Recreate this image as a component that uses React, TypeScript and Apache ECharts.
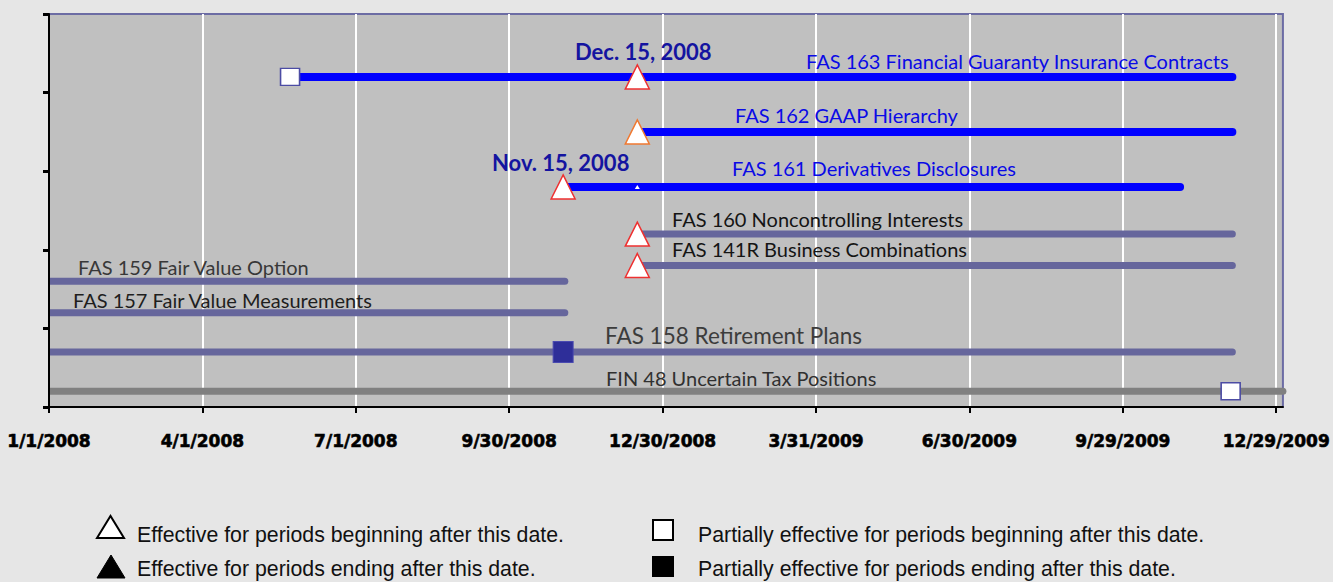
import React, { useEffect, useRef } from 'react';
import * as echarts from 'echarts';

// ---------- data ----------
const BASE = Date.UTC(2008, 0, 1);
const toDay = (s: string) => {
  const [y, m, d] = s.split('-').map(Number);
  return Math.round((Date.UTC(y, m - 1, d) - BASE) / 86400000);
};

const tickDates = ['2008-01-01', '2008-04-01', '2008-07-01', '2008-09-30', '2008-12-30', '2009-03-31', '2009-06-30', '2009-09-29', '2009-12-29'];
const tickLabels = ['1/1/2008', '4/1/2008', '7/1/2008', '9/30/2008', '12/30/2008', '3/31/2009', '6/30/2009', '9/29/2009', '12/29/2009'];
const axisStart = '2008-01-01';
const axisEnd = '2010-01-02';

const standards = [
  'FAS 163 Financial Guaranty Insurance Contracts',
  'FAS 162 GAAP Hierarchy',
  'FAS 161 Derivatives Disclosures',
  'FAS 160 Noncontrolling Interests',
  'FAS 141R Business Combinations',
  'FAS 159 Fair Value Option',
  'FAS 157 Fair Value Measurements',
  'FAS 158 Retirement Plans',
  'FIN 48 Uncertain Tax Positions',
];
const rowLevel = [4.2, 3.5, 2.8, 2.2, 1.8, 1.6, 1.2, 0.7, 0.2];
const startDates = ['2008-05-23', '2008-12-15', '2008-11-01', '2008-12-15', '2008-12-15', '2008-01-01', '2008-01-01', '2008-01-01', '2008-01-01'];
const endDates = ['2009-12-03', '2009-12-03', '2009-11-02', '2009-12-03', '2009-12-03', '2008-11-02', '2008-11-02', '2009-12-03', '2010-01-02'];
const rowGroup = ['new', 'new', 'new', 'adopted', 'adopted', 'adopted', 'adopted', 'adopted', 'fin'];

// markers: [row index, date]
const openTriangles: [number, string][] = [[0, '2008-12-15'], [1, '2008-12-15'], [2, '2008-11-01'], [3, '2008-12-15'], [4, '2008-12-15']];
const smallTriangles: [number, string][] = [[2, '2008-12-15']];
const openSquares: [number, string][] = [[0, '2008-05-23'], [8, '2009-12-02']];
const filledSquares: [number, string][] = [[7, '2008-11-01']];

const dateNotes = ['Dec. 15, 2008', 'Nov. 15, 2008'];

const legendItems = [
  'Effective for periods beginning after this date.',
  'Effective for periods ending after this date.',
  'Partially effective for periods beginning after this date.',
  'Partially effective for periods ending after this date.',
];

// ---------- styles ----------
const groupColor: Record<string, string> = { new: '#0000FF', adopted: '#66669C', fin: '#808080' };
const groupWidth: Record<string, number> = { new: 8, adopted: 7, fin: 7 };
const labelFont = 'Lato, "Open Sans", sans-serif';

// label layout: [x, y, fontSize, color]
const labelLayout: [number, number, number, string][] = [
  [806, 61, 20, '#0A0AE6'],
  [735, 115, 20, '#0A0AE6'],
  [732, 168, 20, '#0A0AE6'],
  [672, 219, 20, '#141414'],
  [672, 249, 20, '#141414'],
  [78, 267, 20, '#383838'],
  [73, 300, 20, '#1E1E1E'],
  [605, 335, 22.5, '#3C3C3C'],
  [606, 378, 20, '#303030'],
];
const noteLayout: [number, number][] = [[575, 51], [492, 162]];

export default function App() {
  const ref = useRef<HTMLDivElement>(null);
  useEffect(() => {
    if (!ref.current) return;
    const chart = echarts.init(ref.current, undefined, { renderer: 'svg' });
    const tickDays = tickDates.map(toDay);
    const lineSeries = standards.map((name, i) => ({
      type: 'line',
      name,
      data: [[toDay(startDates[i]), rowLevel[i]], [toDay(endDates[i]), rowLevel[i]]],
      symbol: 'none',
      silent: true,
      z: 2,
      lineStyle: { color: groupColor[rowGroup[i]], width: groupWidth[rowGroup[i]], cap: 'round', opacity: 1 },
    }));
    const mk = (arr: [number, string][]) => arr.map(([r, d]) => [toDay(d), rowLevel[r]]);

    const graphics: any[] = [];
    // mask left of plot area so line caps do not spill outside the axis
    graphics.push({ type: 'rect', z: 3, silent: true, shape: { x: 0, y: 0, width: 48, height: 420 }, style: { fill: '#E6E6E6' } });
    standards.forEach((name, i) => {
      const [x, y, fs, c] = labelLayout[i];
      graphics.push({ type: 'text', x, y, z: 10, style: { text: name, fill: c, font: `${fs}px ${labelFont}`, textVerticalAlign: 'middle' } });
    });
    dateNotes.forEach((t, i) => {
      const [x, y] = noteLayout[i];
      graphics.push({ type: 'text', x, y, z: 10, style: { text: t, fill: '#1414A0', font: `bold 22px ${labelFont}`, textVerticalAlign: 'middle' } });
    });
    // legend
    const legFont = '21.3px "Liberation Sans", Arial, sans-serif';
    graphics.push({ type: 'polygon', shape: { points: [[97, 538], [110.5, 516], [124, 538]] }, style: { fill: '#fff', stroke: '#000', lineWidth: 2 } });
    graphics.push({ type: 'polygon', shape: { points: [[97, 578], [111, 555], [125, 578]] }, style: { fill: '#000', stroke: '#000', lineWidth: 1 } });
    graphics.push({ type: 'rect', shape: { x: 653, y: 520, width: 20, height: 20 }, style: { fill: '#fff', stroke: '#000', lineWidth: 2 } });
    graphics.push({ type: 'rect', shape: { x: 652, y: 556, width: 22, height: 21 }, style: { fill: '#000' } });
    const legPos: [number, number][] = [[137, 535], [137, 569], [698, 535], [698, 569]];
    legendItems.forEach((t, i) => {
      graphics.push({ type: 'text', x: legPos[i][0], y: legPos[i][1], style: { text: t, fill: '#111', font: legFont, textVerticalAlign: 'middle' } });
    });

    chart.setOption({
      animation: false,
      backgroundColor: '#E6E6E6',
      grid: { left: 49, right: 46, top: 14, bottom: 175, show: true, backgroundColor: '#C0C0C0', borderColor: '#6C6CA4', borderWidth: 2 },
      xAxis: {
        type: 'value',
        min: toDay(axisStart),
        max: toDay(axisEnd),
        interval: 91,
        axisLine: { show: true, onZero: false, lineStyle: { color: '#000', width: 2 } },
        axisTick: { show: true, customValues: tickDays, length: 6, lineStyle: { color: '#000', width: 2 } },
        axisLabel: {
          customValues: tickDays,
          margin: 25,
          formatter: (v: number) => { const k = tickDays.indexOf(Math.round(v)); return k >= 0 ? tickLabels[k] : ''; },
          fontFamily: '"DejaVu Sans", sans-serif',
          fontWeight: 'bold',
          fontSize: 17,
          color: '#000',
          textBorderColor: '#000',
          textBorderWidth: 0.6,
        },
        splitLine: { show: true, lineStyle: { color: '#FFFFFF', width: 2 } },
      },
      yAxis: {
        type: 'value',
        z: 20,
        min: 0,
        max: 5,
        interval: 1,
        axisLine: { show: true, lineStyle: { color: '#000', width: 2 } },
        axisTick: { show: true, length: 6, lineStyle: { color: '#000', width: 3 } },
        axisLabel: { show: false },
        splitLine: { show: false },
      },
      series: [
        ...lineSeries,
        {
          type: 'scatter', name: 'open-triangle', z: 5, silent: true,
          symbol: 'triangle', symbolSize: [24, 24],
          data: mk(openTriangles).map((p, i) => ({ value: p, itemStyle: { borderColor: openTriangles[i][0] === 1 ? '#F07830' : '#EE3030' } })),
          itemStyle: { color: '#FFFFFF', borderWidth: 1.5, opacity: 1 },
        },
        {
          type: 'scatter', name: 'small-triangle', z: 5, silent: true,
          symbol: 'triangle', symbolSize: [5, 4],
          data: mk(smallTriangles),
          itemStyle: { color: '#FFFFFF', opacity: 1 },
        },
        {
          type: 'scatter', name: 'open-square', z: 5, silent: true,
          symbol: 'rect', symbolSize: [19, 17],
          data: mk(openSquares),
          itemStyle: { color: '#FFFFFF', borderColor: '#4C4CA4', borderWidth: 1.5, opacity: 1 },
        },
        {
          type: 'scatter', name: 'filled-square', z: 5, silent: true,
          symbol: 'rect', symbolSize: [20, 21],
          data: mk(filledSquares),
          itemStyle: { color: '#2E2E99', borderColor: '#4A4AB0', borderWidth: 1, opacity: 1 },
        },
      ],
      graphic: graphics,
    });
    return () => chart.dispose();
  }, []);
  return <div ref={ref} style={{ position: 'fixed', left: 0, top: 0, width: 1333, height: 582 }} />;
}
